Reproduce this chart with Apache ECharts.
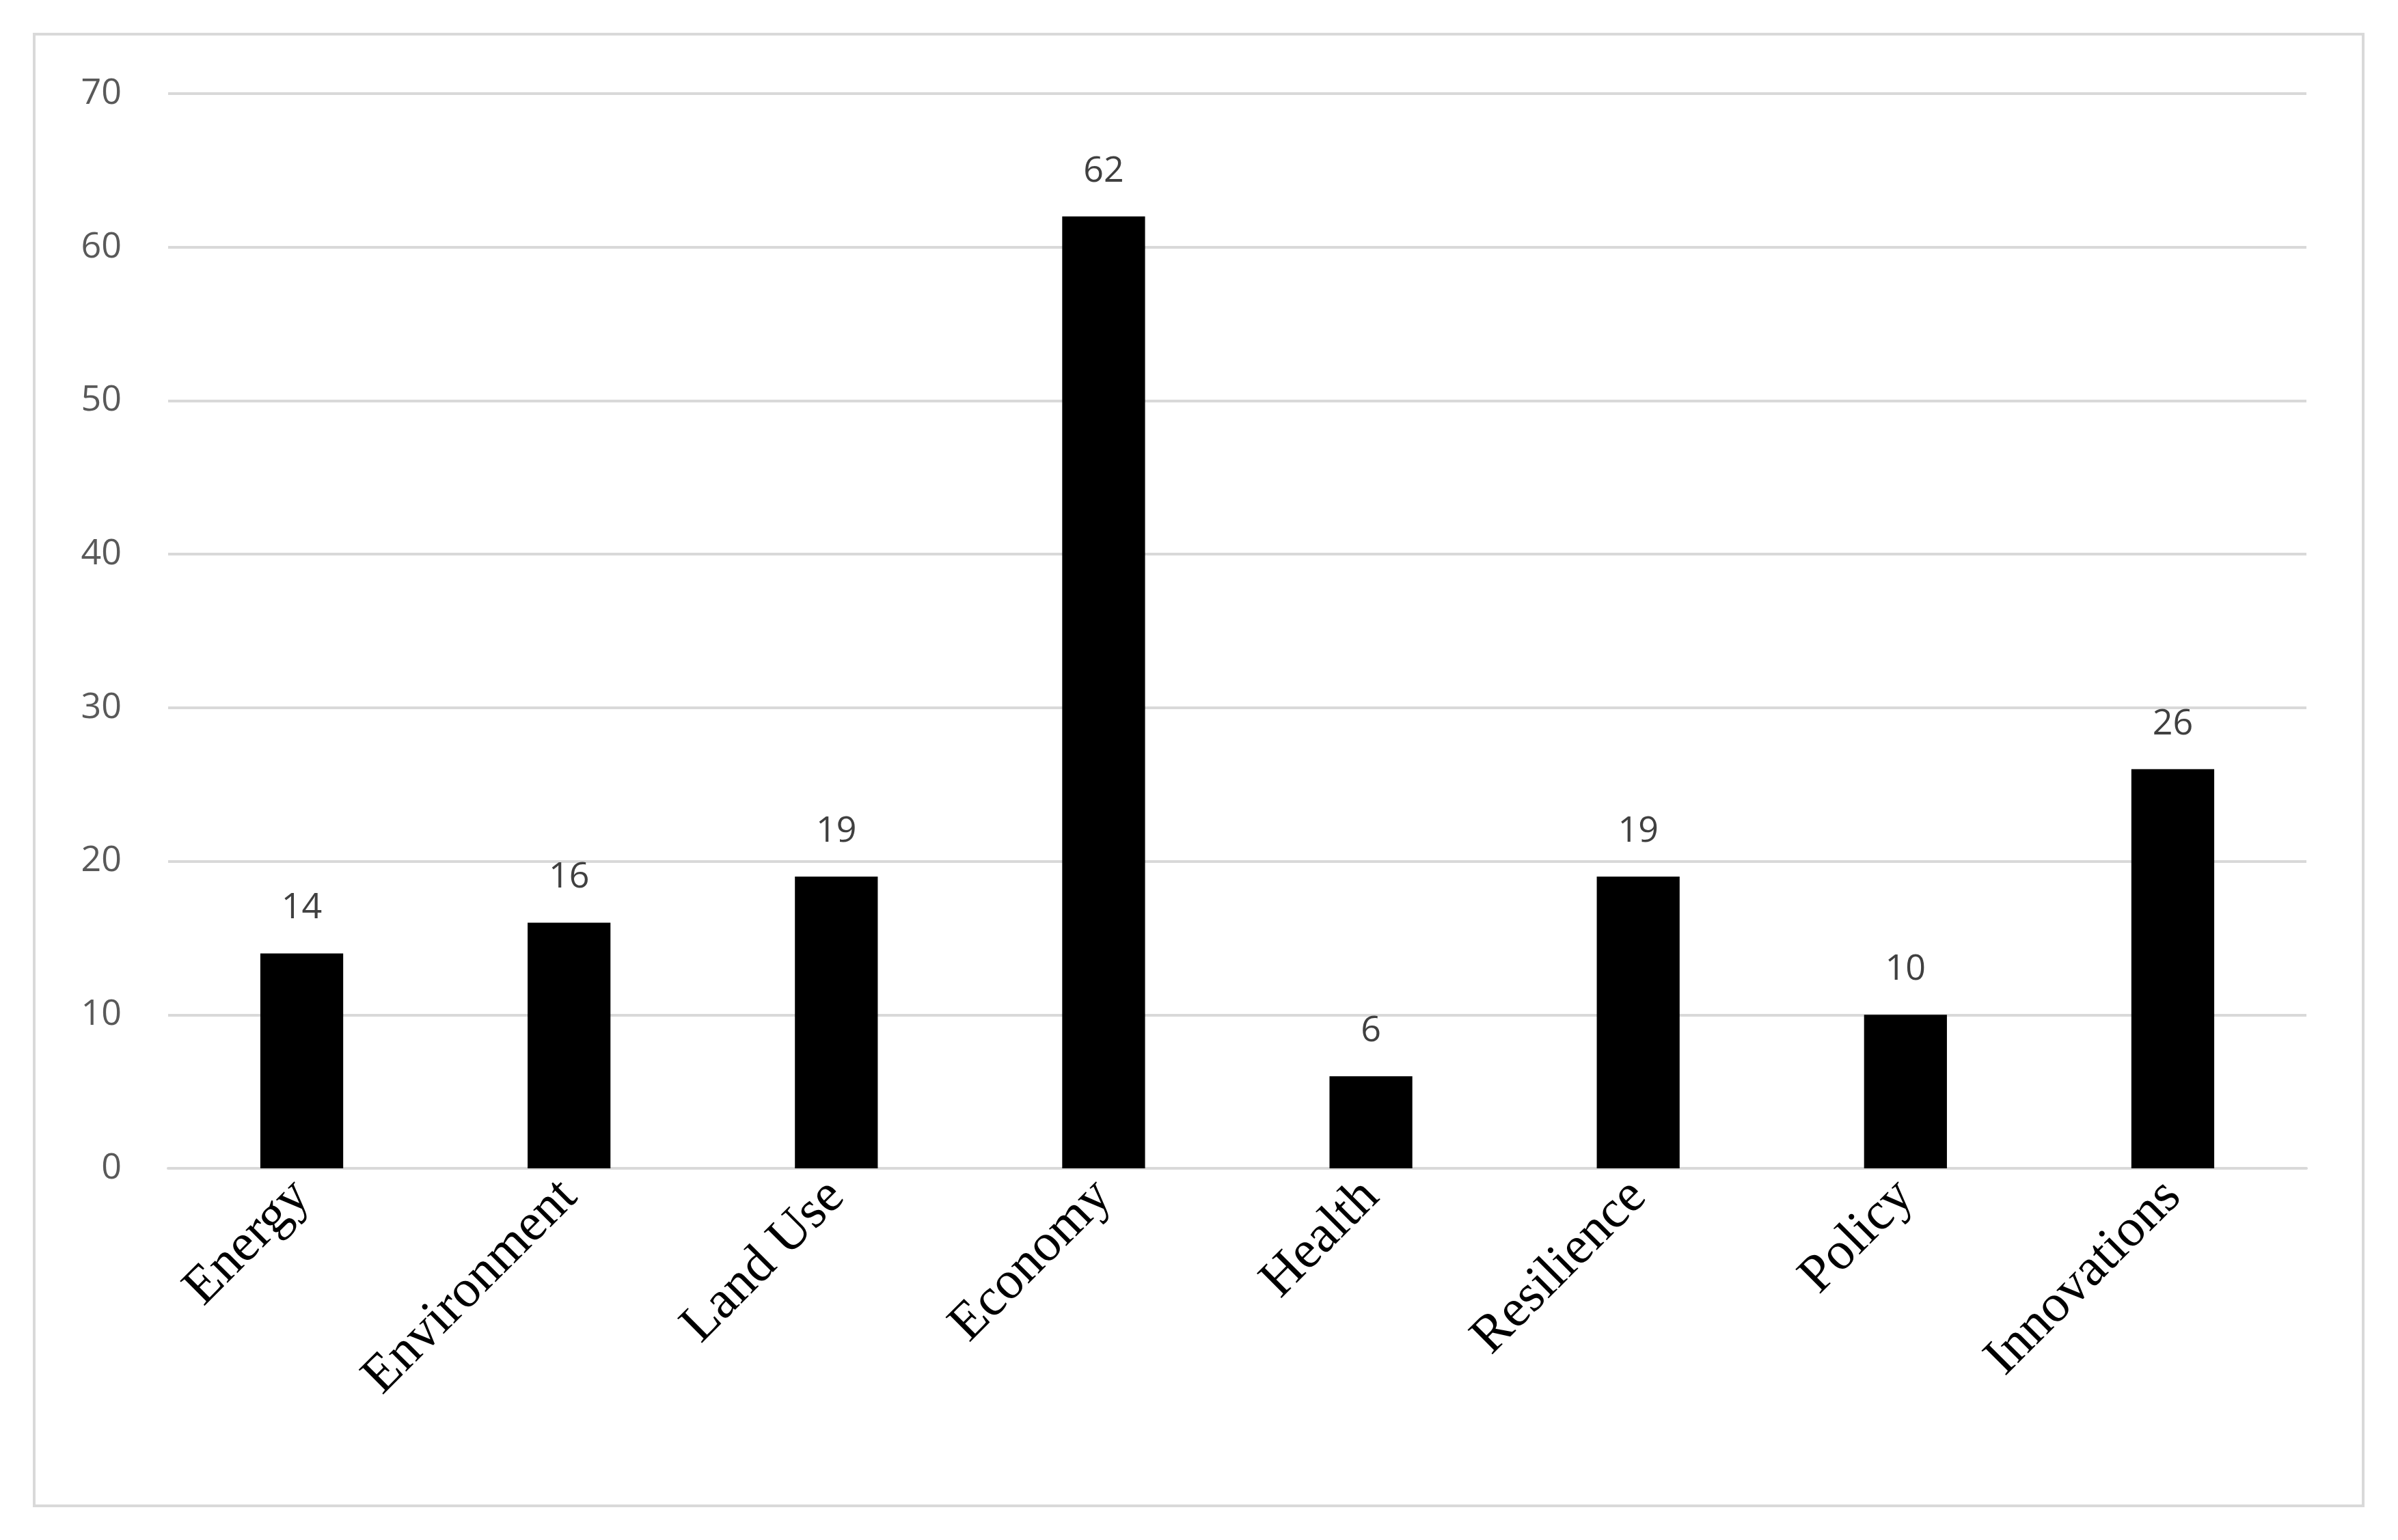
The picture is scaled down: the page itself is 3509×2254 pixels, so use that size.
<!DOCTYPE html>
<html>
<head>
<meta charset="utf-8">
<script src="https://cdn.jsdelivr.net/npm/echarts@6/dist/echarts.min.js"></script>
<style>html,body{margin:0;padding:0;background:#fff;}#chart{width:3509px;height:2254px;}</style>
</head>
<body>
<div id="chart"></div>
<script>
const categories = ['Energy', 'Environment', 'Land Use', 'Economy', 'Health', 'Resilience', 'Policy', 'Innovations'];
const values = [14, 16, 19, 62, 6, 19, 10, 26];

const myChart = echarts.init(document.getElementById('chart'));
myChart.setOption({
    backgroundColor: '#fff',
    animation: false,
    graphic: [{
        type: 'rect',
        shape: {x: 50, y: 50, width: 3408, height: 2154},
        style: {fill: 'none', stroke: '#d9d9d9', lineWidth: 4}
    }],
    grid: {left: 246, right: 134, top: 137, bottom: 544},
    xAxis: {
        type: 'category',
        data: categories,
        axisLine: {lineStyle: {color: '#d9d9d9', width: 4}},
        axisTick: {show: false},
        axisLabel: {
            rotate: 45, color: '#000', fontFamily: 'Liberation Serif',
            fontSize: 78, margin: 30, interval: 0
        }
    },
    yAxis: {
        type: 'value', min: 0, max: 70, interval: 10,
        axisLine: {show: false},
        axisTick: {show: false},
        splitLine: {lineStyle: {color: '#d9d9d9', width: 4}},
        axisLabel: {color: '#595959', fontFamily: 'Open Sans', fontSize: 52, margin: 68}
    },
    series: [{
        type: 'bar',
        data: values,
        barWidth: '31%',
        itemStyle: {color: '#000'},
        label: {
            show: true, position: 'top', distance: 40,
            color: '#404040', fontFamily: 'Open Sans', fontSize: 52
        }
    }]
});
</script>
</body>
</html>
